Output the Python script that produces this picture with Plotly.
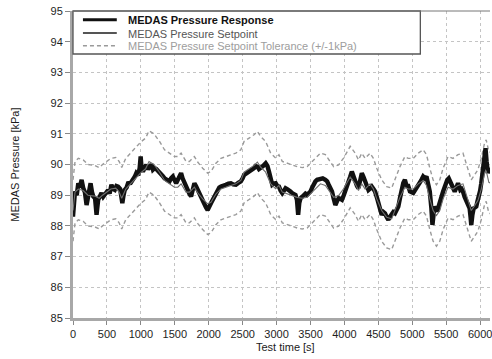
import plotly.graph_objects as go

# Setpoint trajectory [kPa] over test time [s]
setpoint_t = [0, 30, 78, 150, 220, 320, 386, 435, 557, 630, 680, 718, 777, 850, 924, 997,
              1070, 1120, 1193, 1275, 1349, 1422, 1495, 1544, 1593, 1666, 1715, 1789, 1837,
              1911, 1984, 2033, 2106, 2180, 2253, 2326, 2400, 2473, 2521, 2595, 2668, 2717,
              2766, 2839, 2913, 2986, 3035, 3084, 3157, 3230, 3304, 3377, 3450, 3499, 3572,
              3646, 3719, 3768, 3841, 3914, 3987, 4085, 4158, 4207, 4256, 4305, 4378, 4427,
              4476, 4549, 4623, 4696, 4745, 4818, 4891, 4940, 5014, 5087, 5160, 5209, 5258,
              5307, 5356, 5405, 5454, 5527, 5600, 5673, 5747, 5796, 5869, 5918, 5967, 6016,
              6065, 6089, 6128, 6150]
setpoint_v = [88.5, 89.1, 89.2, 89.15, 89.0, 88.97, 88.9, 89.0, 89.2, 89.23, 89.1, 88.9,
              89.2, 89.37, 89.53, 89.73, 89.86, 90.1, 90.0, 89.75, 89.48, 89.37, 89.26, 89.26,
              89.37, 89.1, 89.1, 89.26, 89.08, 88.88, 88.72, 88.77, 89.04, 89.2, 89.26, 89.32,
              89.37, 89.48, 89.75, 89.86, 89.97, 90.08, 89.91, 89.75, 89.37, 89.21, 89.32,
              89.1, 89.04, 88.99, 88.93, 88.9, 88.93, 89.04, 89.21, 89.37, 89.32, 89.15, 88.93,
              88.99, 89.21, 89.59, 89.37, 89.15, 89.37, 89.2, 89.37, 89.2, 88.88, 88.5, 88.28,
              88.23, 88.5, 88.93, 89.26, 89.2, 89.2, 89.37, 89.48, 89.32, 88.88, 88.5, 88.34,
              88.5, 88.88, 89.26, 89.2, 89.32, 89.37, 89.04, 88.5, 88.66, 88.83, 89.2, 89.7,
              89.8, 89.42, 89.4]
tolerance = 1.0

# Measured pressure response [kPa]
response_t = [0, 5, 29, 55, 78, 100, 127, 151, 175, 200, 224, 259, 280, 298, 325, 347, 371,
              395, 420, 445, 469, 495, 518, 540, 566, 590, 615, 640, 664, 695, 727, 745, 762,
              790, 811, 850, 884, 910, 933, 960, 982, 997, 1010, 1031, 1055, 1080, 1105, 1129,
              1155, 1178, 1202, 1227, 1250, 1275, 1300, 1325, 1349, 1380, 1422, 1445, 1471,
              1495, 1520, 1545, 1570, 1593, 1615, 1642, 1665, 1691, 1715, 1740, 1765, 1789,
              1812, 1837, 1860, 1886, 1910, 1935, 1960, 1984, 2008, 2033, 2060, 2082, 2105,
              2131, 2155, 2180, 2215, 2253, 2290, 2326, 2360, 2400, 2435, 2473, 2500, 2521,
              2560, 2595, 2630, 2668, 2690, 2717, 2740, 2766, 2800, 2839, 2865, 2888, 2910,
              2937, 2960, 2986, 3010, 3035, 3060, 3084, 3110, 3132, 3155, 3181, 3205, 3230,
              3255, 3279, 3300, 3318, 3335, 3353, 3378, 3401, 3425, 3450, 3475, 3499, 3525,
              3548, 3572, 3597, 3620, 3646, 3680, 3719, 3745, 3768, 3790, 3817, 3840, 3866,
              3890, 3914, 3940, 3963, 3990, 4012, 4035, 4061, 4085, 4109, 4135, 4158, 4185,
              4207, 4230, 4256, 4280, 4305, 4330, 4354, 4380, 4403, 4428, 4451, 4475, 4500,
              4525, 4549, 4575, 4598, 4620, 4647, 4672, 4696, 4720, 4745, 4770, 4794, 4818,
              4842, 4867, 4891, 4916, 4940, 4965, 5014, 5040, 5062, 5087, 5111, 5135, 5160,
              5185, 5209, 5235, 5258, 5280, 5297, 5315, 5331, 5350, 5370, 5390, 5405, 5430,
              5454, 5475, 5493, 5515, 5537, 5555, 5576, 5600, 5625, 5650, 5674, 5690, 5708,
              5727, 5747, 5770, 5796, 5820, 5845, 5858, 5869, 5885, 5904, 5925, 5943, 5960,
              5982, 6000, 6016, 6035, 6050, 6065, 6079, 6095, 6114, 6130, 6150]
response_v = [88.3, 88.47, 89.12, 89.0, 89.39, 89.25, 89.5, 89.23, 89.1, 88.68, 88.96, 89.39,
              89.1, 88.96, 88.9, 88.36, 88.85, 89.0, 89.07, 88.95, 89.01, 89.1, 89.17, 89.05,
              89.34, 89.2, 89.17, 89.3, 89.28, 89.2, 88.74, 89.0, 89.17, 89.25, 89.39, 89.4,
              89.5, 89.6, 89.72, 89.65, 89.88, 90.26, 89.9, 89.77, 89.9, 89.99, 89.85, 89.93,
              90.0, 89.83, 89.88, 89.85, 89.8, 89.77, 89.7, 89.62, 89.55, 89.5, 89.45, 89.55,
              89.61, 89.5, 89.39, 89.5, 89.6, 89.72, 89.55, 89.39, 89.25, 89.12, 89.05, 88.96,
              89.2, 89.39, 89.3, 89.17, 89.05, 88.96, 88.85, 88.74, 88.6, 88.52, 88.6, 88.74,
              88.85, 88.96, 89.05, 89.17, 89.25, 89.28, 89.3, 89.34, 89.38, 89.39, 89.35,
              89.34, 89.4, 89.45, 89.55, 89.66, 89.72, 89.77, 89.82, 89.88, 89.95, 89.93,
              89.85, 89.88, 89.95, 90.04, 89.95, 89.77, 89.5, 89.34, 89.38, 89.39, 89.3,
              89.28, 89.15, 89.07, 89.15, 89.23, 89.2, 89.17, 89.12, 89.07, 89.05, 89.01,
              88.85, 88.36, 88.75, 88.9, 88.95, 89.01, 89.05, 89.01, 89.05, 89.12, 89.25,
              89.39, 89.45, 89.5, 89.52, 89.55, 89.55, 89.5, 89.45, 89.34, 89.25, 89.12,
              88.9, 88.68, 88.8, 88.9, 88.88, 88.85, 89.0, 89.12, 89.3, 89.45, 89.6, 89.77,
              89.6, 89.39, 89.3, 89.23, 89.45, 89.72, 89.6, 89.45, 89.3, 89.17, 89.22, 89.28,
              89.2, 89.12, 88.95, 88.74, 88.55, 88.36, 88.45, 88.41, 88.3, 88.2, 88.3, 88.36,
              88.45, 88.41, 88.5, 88.63, 88.9, 89.23, 89.4, 89.5, 89.3, 89.3, 89.12, 89.07,
              89.15, 89.23, 89.3, 89.39, 89.5, 89.61, 89.55, 89.61, 89.4, 89.12, 88.6, 88.03,
              88.4, 88.63, 88.55, 88.47, 88.65, 88.79, 88.95, 89.12, 89.25, 89.39, 89.5,
              89.55, 89.45, 89.39, 89.25, 89.12, 89.25, 89.39, 89.3, 89.17, 89.2, 89.12,
              88.95, 88.79, 88.7, 88.57, 88.3, 88.03, 88.35, 88.57, 88.6, 88.63, 88.8, 88.96,
              89.15, 89.39, 89.8, 90.1, 90.3, 90.53, 90.1, 89.72, 89.83, 89.8]

x_ticks = list(range(0, 6001, 500))
y_ticks = list(range(85, 96))

legend_labels = ["MEDAS Pressure Response",
                 "MEDAS Pressure Setpoint",
                 "MEDAS Pressure Setpoint Tolerance (+/-1kPa)"]

FONT = "Liberation Sans, Arial, sans-serif"
W, H = 492, 359
ML, MT, MB = 73, 11, 41
PW = W - ML
PH = H - MT - MB

upper = [v + tolerance for v in setpoint_v]
lower = [v - tolerance for v in setpoint_v]

fig = go.Figure()
tol_style = dict(color="#9a9a9a", width=1.4, dash="4px,3px")
fig.add_trace(go.Scatter(x=setpoint_t, y=upper, mode="lines", line=tol_style,
                         name=legend_labels[2], showlegend=False))
fig.add_trace(go.Scatter(x=setpoint_t, y=lower, mode="lines", line=tol_style,
                         name=legend_labels[2], showlegend=False))
fig.add_trace(go.Scatter(x=response_t, y=response_v, mode="lines",
                         line=dict(color="#111111", width=4.4),
                         name=legend_labels[0], showlegend=False))
fig.add_trace(go.Scatter(x=setpoint_t, y=setpoint_v, mode="lines",
                         line=dict(color="#6e6e6e", width=1.1),
                         name=legend_labels[1], showlegend=False))

# Legend drawn as a boxed key in the upper-left corner
def px_x(p):
    return (p - ML) / PW

def px_y(p):
    return 1 - (p - MT) / PH

shapes = [
    dict(type="rect", xref="paper", yref="paper", x0=0, x1=px_x(422), y0=px_y(54), y1=1,
         fillcolor="white", line=dict(color="#555555", width=1.3), layer="above"),
]
key_styles = [dict(color="#111111", width=3),
              dict(color="#555555", width=1.8),
              dict(color="#9a9a9a", width=1.4, dash="4px,3px")]
text_styles = [("#111111", True), ("#555555", False), ("#9d9d9d", False)]
rows = [19.7, 33.0, 45.7]
annotations = []
for label, row, ks, (tc, bold) in zip(legend_labels, rows, key_styles, text_styles):
    shapes.append(dict(type="line", xref="paper", yref="paper", x0=px_x(83), x1=px_x(117),
                       y0=px_y(row), y1=px_y(row), line=ks, layer="above"))
    annotations.append(dict(xref="paper", yref="paper", x=px_x(126), y=px_y(row + 0.5),
                            xanchor="left", yanchor="middle", showarrow=False,
                            text=f"<b>{label}</b>" if bold else label,
                            font=dict(family=FONT, size=11, color=tc)))

annotations.append(dict(xref="paper", yref="paper", x=px_x(287), y=px_y(347),
                        xanchor="center", yanchor="middle", showarrow=False,
                        text="Test time [s]", font=dict(family=FONT, size=11, color="#1a1a1a")))
annotations.append(dict(xref="paper", yref="paper", x=px_x(14), y=0.5, textangle=-90,
                        xanchor="center", yanchor="middle", showarrow=False,
                        text="MEDAS Pressure [kPa]", font=dict(family=FONT, size=11, color="#1a1a1a")))

grid = dict(showgrid=True, gridcolor="#c4c4c4", gridwidth=1, griddash="dot", zeroline=False)
fig.update_layout(
    width=W, height=H,
    margin=dict(l=ML, r=0, t=MT, b=MB, pad=0),
    paper_bgcolor="white", plot_bgcolor="white",
    showlegend=False,
    shapes=shapes, annotations=annotations,
    font=dict(family=FONT, size=11, color="#222222"),
    xaxis=dict(range=[0, 6145], tickvals=x_ticks, ticks="outside", ticklen=4, tickwidth=1,
               tickcolor="#888888", showline=True, linecolor="#a8a8a8", linewidth=3,
               mirror=False, ticklabeloverflow="allow",
               tickfont=dict(size=11, color="#1e1e1e"), **grid),
    yaxis=dict(range=[85, 95], tickvals=y_ticks, ticks="outside", ticklen=5, tickwidth=1,
               tickcolor="#888888", showline=True, linecolor="#a8a8a8", linewidth=3,
               tickfont=dict(size=11, color="#1e1e1e"), **grid),
)
# Thin frame line along the top of the plotting area
fig.add_shape(type="line", xref="paper", yref="paper", x0=0, x1=1, y0=1, y1=1,
              line=dict(color="#777777", width=1))

fig.write_html("out.html")
